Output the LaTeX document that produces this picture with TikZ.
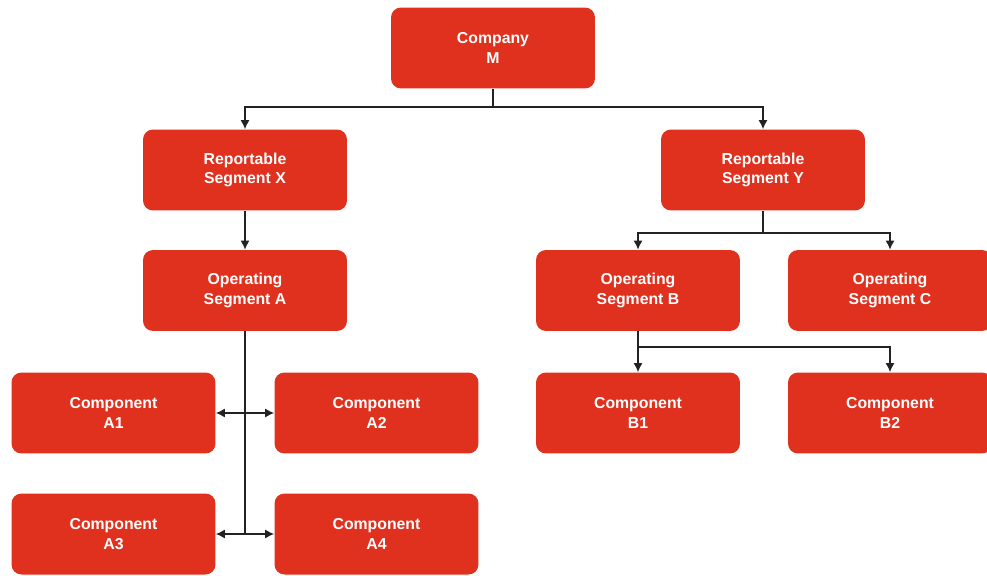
\documentclass[tikz,border=0pt]{standalone}
\usepackage{fontspec}
\setmainfont{Liberation Sans}
\usepackage{tikz}
\usetikzlibrary{arrows.meta}
\usetikzlibrary{calc}
\usetikzlibrary{positioning}
\definecolor{segred}{HTML}{E0301E}
\definecolor{linegray}{HTML}{222222}

\begin{document}
\begin{tikzpicture}
	[
	x = 0.02cm, y = -0.02cm,
  	> = {Latex[length=1.8mm,width=1.8mm]},
  	unit/.style = {rectangle, rounded corners=0.2cm, fill=segred, text=white,
  		minimum width=4.08cm, minimum height=1.62cm, align=center,
  		font=\fontsize{9}{11}\selectfont\bfseries},
  	link/.style = {draw=linegray, line width=0.75pt}
  	]

  	\useasboundingbox (0,0) rectangle (987,575);

  	\node[unit] (M) at (493,48) {Company\\M};

  	\node[unit] (X) at (245,170) {Reportable\\Segment X};
  	\node[unit] (Y) at (763,170) {Reportable\\Segment Y};

  	\node[unit] (A) at (245,290.5) {Operating\\Segment A};
  	\node[unit] (B) at (638,290.5) {Operating\\Segment B};
  	\node[unit] (C) at (890,290.5) {Operating\\Segment C};

  	\node[unit] (A1) at (113.5,413) {Component\\A1};
  	\node[unit] (A2) at (376.5,413) {Component\\A2};
  	\node[unit] (B1) at (638,413) {Component\\B1};
  	\node[unit] (B2) at (890,413) {Component\\B2};
  	\node[unit] (A3) at (113.5,534) {Component\\A3};
  	\node[unit] (A4) at (376.5,534) {Component\\A4};

  	\coordinate (jM) at (493,107);
  	\coordinate (jY) at (763,233);
  	\coordinate (jB) at (638,347);
  	\coordinate (jA) at (245,534);

	% company to reportable segments
	\draw[link] (M) -- (jM);
	\draw[link,->] (jM) -| (X);
	\draw[link,->] (jM) -| (Y);

	% reportable to operating segments
	\draw[link,->] (X) -- (A);
	\draw[link] (Y) -- (jY);
	\draw[link,->] (jY) -| (B);
	\draw[link,->] (jY) -| (C);

	% operating segments to components
	\draw[link] (B) -- (jB);
	\draw[link,->] (jB) -- (B1);
	\draw[link,->] (jB) -| (B2);

	\draw[link] (A) -- (jA);
	\draw[link,<->] (A1) -- (A2);
	\draw[link,<->] (A3) -- (A4);

\end{tikzpicture}
\end{document}
